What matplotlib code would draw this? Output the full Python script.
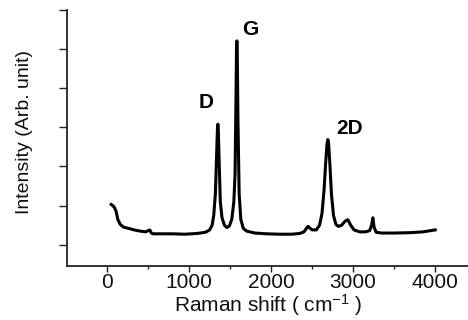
import matplotlib
matplotlib.use("Agg")
import matplotlib.pyplot as plt
from matplotlib.ticker import MultipleLocator

plt.rcParams['font.family'] = ['Liberation Sans', 'DejaVu Sans']
plt.rcParams['mathtext.fontset'] = 'custom'
plt.rcParams['mathtext.rm'] = 'Liberation Sans'
plt.rcParams['mathtext.it'] = 'Liberation Sans:italic'

raman_shift = [50, 70, 90, 110, 130, 160, 200, 260, 330, 400, 470, 500, 520, 540, 560,
               650, 800, 950, 1100, 1200, 1250, 1280, 1300, 1320, 1335, 1345, 1350, 1355,
               1365, 1380, 1400, 1430, 1460, 1490, 1520, 1545, 1560, 1570, 1577, 1582,
               1587, 1595, 1610, 1630, 1660, 1700, 1800, 1950, 2100, 2250, 2350, 2400,
               2430, 2450, 2470, 2500, 2550, 2590, 2620, 2645, 2665, 2680, 2691, 2700,
               2715, 2735, 2760, 2790, 2820, 2860, 2900, 2935, 2970, 3010, 3080, 3150,
               3200, 3225, 3240, 3255, 3280, 3350, 3500, 3700, 3850, 4000]
intensity = [1.03, 1.00, 0.95, 0.85, 0.65, 0.52, 0.45, 0.42, 0.38, 0.35, 0.33, 0.36, 0.38, 0.30, 0.28,
             0.28, 0.28, 0.27, 0.29, 0.32, 0.38, 0.50, 0.75, 1.30, 2.30, 2.95, 3.08, 2.95,
             2.20, 1.10, 0.70, 0.50, 0.44, 0.48, 0.65, 1.10, 1.80, 3.50, 4.90, 5.21,
             4.90, 3.20, 1.30, 0.65, 0.42, 0.35, 0.30, 0.28, 0.27, 0.27, 0.29, 0.33,
             0.42, 0.47, 0.43, 0.38, 0.38, 0.50, 0.80, 1.40, 2.10, 2.55, 2.69, 2.60,
             2.10, 1.30, 0.75, 0.52, 0.47, 0.50, 0.60, 0.64, 0.50, 0.38, 0.33, 0.33,
             0.36, 0.50, 0.69, 0.45, 0.32, 0.30, 0.30, 0.31, 0.33, 0.38]

peak_labels = ["D", "G", "2D"]
peak_label_x = [1207, 1744, 2951]
peak_label_y = [3.64, 5.51, 2.97]

x_ticks = [0, 1000, 2000, 3000, 4000]
y_ticks = [0, 1, 2, 3, 4, 5, 6]

fig = plt.figure(figsize=(4.68, 3.2), dpi=100)
ax = fig.add_axes([0.143, 0.169, 0.857, 0.8])
ax.plot(raman_shift, intensity, color='black', lw=2.2, solid_joinstyle='round')

for lab, lx, ly in zip(peak_labels, peak_label_x, peak_label_y):
    ax.text(lx, ly, lab, fontsize=15, fontweight='bold', ha='center', va='center')

ax.set_xlim(-490, 4400)
ax.set_ylim(-0.54, 6.0)
ax.set_xticks(x_ticks)
ax.xaxis.set_minor_locator(MultipleLocator(500))
ax.set_yticks(y_ticks)
ax.set_yticklabels([])
ax.spines['top'].set_visible(False)
ax.spines['right'].set_visible(False)
for s in ['left', 'bottom']:
    ax.spines[s].set_linewidth(1.3)
    ax.spines[s].set_color('#222222')
ax.tick_params(axis='y', which='major', direction='out', length=6, width=1.0, colors='#222222')
ax.tick_params(axis='x', which='major', direction='out', length=4, width=1.0,
               labelsize=15, colors='#222222', labelcolor='#111111', pad=1)
ax.tick_params(axis='x', which='minor', direction='out', length=2.5, width=1.0, colors='#222222')

fig.text(0.574, 1.5 / 320, "Raman shift ( cm$^{-1}$ )", fontsize=15, ha='center', va='bottom',
         color='#111111')
fig.text(25 / 468, 1 - 132 / 320, "Intensity (Arb. unit)", fontsize=14, rotation=90,
         ha='center', va='center', color='#111111')

fig.savefig("out.png", dpi=100)
